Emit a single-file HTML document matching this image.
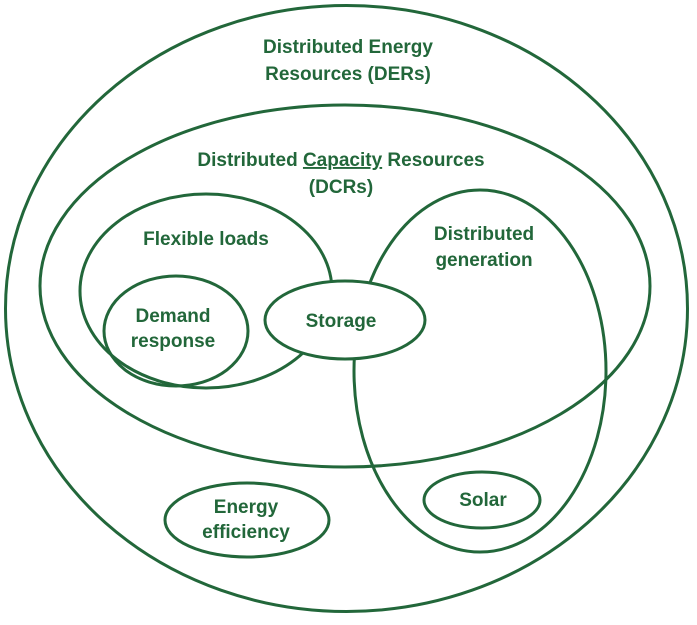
<!DOCTYPE html>
<html><head><style>
html,body{margin:0;padding:0;background:#fff;}
svg text{font-family:"Liberation Sans",sans-serif;font-weight:bold;font-size:19px;fill:#22673a;text-anchor:middle;}
</style></head><body>
<svg width="697" height="620" viewBox="0 0 697 620" xmlns="http://www.w3.org/2000/svg">
<g fill="none" stroke="#22673a" stroke-width="3">
<ellipse cx="346.5" cy="308.5" rx="341" ry="303"/>
<ellipse cx="345" cy="286" rx="305" ry="181"/>
<ellipse cx="206" cy="291" rx="126" ry="97"/>
<ellipse cx="480" cy="371" rx="126" ry="181"/>
<ellipse cx="176" cy="331" rx="72" ry="55"/>
<ellipse cx="345" cy="320" rx="80" ry="39" fill="#fff"/>
<ellipse cx="247" cy="520" rx="82" ry="37"/>
<ellipse cx="482" cy="500" rx="58" ry="28"/>
</g>
<text x="348" y="53">Distributed Energy</text>
<text x="348" y="80">Resources (DERs)</text>
<text x="341" y="166">Distributed <tspan text-decoration="underline">Capacity</tspan> Resources</text>
<text x="341" y="193">(DCRs)</text>
<text x="206" y="245">Flexible loads</text>
<text x="484" y="240">Distributed</text>
<text x="484" y="266">generation</text>
<text x="173" y="322">Demand</text>
<text x="173" y="347">response</text>
<text x="341" y="327">Storage</text>
<text x="246" y="513">Energy</text>
<text x="246" y="538">efficiency</text>
<text x="483" y="506">Solar</text>
</svg>
</body></html>
